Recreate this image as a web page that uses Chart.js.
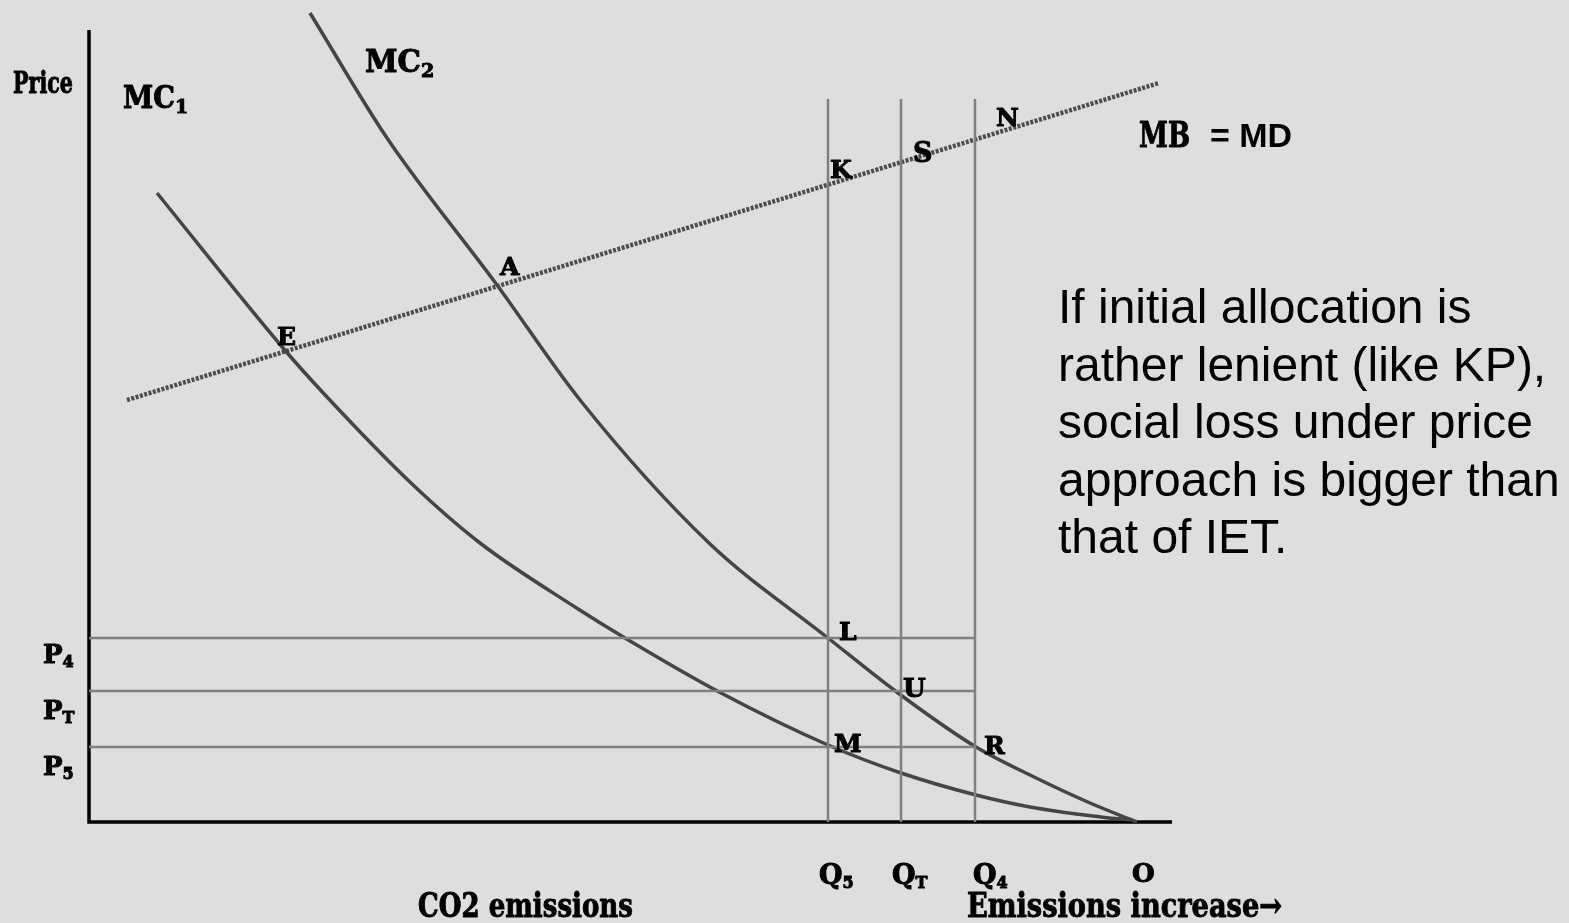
<!DOCTYPE html>
<html>
<head>
<meta charset="utf-8">
<script src="https://cdn.jsdelivr.net/npm/chart.js@4/dist/chart.umd.min.js"></script>
<style>
  html, body { margin: 0; padding: 0; background: #dedede; }
  canvas { display: block; }
</style>
</head>
<body>
<canvas id="chart" width="1569" height="923"></canvas>
<script>
// emissions run left -> right, price bottom -> top (units)
const mbX = [38, 1070];
const mbY = [422, 739];

const mc1X = [68, 194, 238, 322, 391, 486, 536, 632, 739, 812, 887, 941, 1012, 1041];
const mc1Y = [629, 474, 425, 339, 279, 215, 184, 129, 77, 49, 27, 15, 5, 2];

const mc2X = [221, 298, 408, 491, 620, 739, 809, 887, 941, 1001, 1048];
const mc2Y = [809, 684, 537, 422, 279, 184, 129, 75, 47, 19, 0];

// quantity levels Q5, QT, Q4 and price levels P4, PT, P5
const qLevels = [739, 812, 886];
const qTop = 723;
const pLevels = [184, 131, 75];

const axisXMax = 1083;
const axisYMax = 792;

const pts = (xs, ys) => xs.map((x, i) => ({ x: x, y: ys[i] }));

const datasets = [];
// guide lines
qLevels.forEach(q => datasets.push({ data: [{ x: q, y: 0 }, { x: q, y: qTop }], borderColor: '#808080', borderWidth: 2.5 }));
pLevels.forEach(p => datasets.push({ data: [{ x: 0, y: p }, { x: qLevels[2], y: p }], borderColor: '#808080', borderWidth: 2.5 }));
// curves
datasets.push({ data: pts(mc1X, mc1Y), borderColor: '#454545', borderWidth: 3.5, cubicInterpolationMode: 'monotone' });
datasets.push({ data: pts(mc2X, mc2Y), borderColor: '#454545', borderWidth: 3.5, cubicInterpolationMode: 'monotone' });
datasets.push({ data: pts(mbX, mbY), borderColor: '#4d4d4d', borderWidth: 4.5, borderDash: [3, 1.5] });
// axes
datasets.push({ data: [{ x: 0, y: axisYMax }, { x: 0, y: 0 }, { x: axisXMax, y: 0 }], borderColor: '#000', borderWidth: 3.5 });

datasets.forEach(d => { d.showLine = true; d.pointRadius = 0; d.fill = false; d.clip = false; });

// text labels: x/y are the left end of the baseline, in chart units
const slab = 'bold {s}px "DejaVu Serif"';
const labels = [
  { t: 'Price', x: -76, y: 729, s: 30, w: 60 },
  { t: 'MC', sub: '1', x: 34, y: 714, s: 32, w: 52 },
  { t: 'MC', sub: '2', x: 276, y: 750, s: 32, w: 56 },
  { t: 'E', x: 188, y: 477, s: 25 },
  { t: 'A', x: 411, y: 547, s: 25 },
  { t: 'K', x: 741, y: 644, s: 25 },
  { t: 'S', x: 824, y: 660, s: 27 },
  { t: 'N', x: 907, y: 696, s: 25 },
  { t: 'L', x: 750, y: 182, s: 25 },
  { t: 'U', x: 814, y: 125, s: 26 },
  { t: 'M', x: 745, y: 70, s: 25 },
  { t: 'R', x: 895, y: 68, s: 25 },
  { t: 'P', sub: '4', x: -46, y: 159, s: 26 },
  { t: 'P', sub: 'T', x: -46, y: 103, s: 26 },
  { t: 'P', sub: '5', x: -46, y: 47, s: 26 },
  { t: 'Q', sub: '5', x: 730, y: -62, s: 27 },
  { t: 'Q', sub: 'T', x: 803, y: -62, s: 27 },
  { t: 'Q', sub: '4', x: 884, y: -62, s: 27 },
  { t: 'O', x: 1043, y: -60, s: 26 },
  { t: 'CO2 emissions', x: 329, y: -95, s: 34, w: 215 },
  { t: 'Emissions increase\u2192', x: 878, y: -95, s: 34, w: 315 },
  { t: 'MB', x: 1050, y: 675, s: 36, w: 51 },
  { t: '= MD', x: 1121, y: 675, s: 34, w: 84, font: 'bold {s}px "Liberation Sans", Arial', plain: true }
];

const note = [
  'If initial allocation is',
  'rather lenient (like KP),',
  'social loss under price',
  'approach is bigger than',
  'that of IET.'
];

const textPlugin = {
  id: 'textLabels',
  afterDatasetsDraw(chart) {
    const ctx = chart.ctx;
    const xs = chart.scales.x, ys = chart.scales.y;
    ctx.save();
    ctx.fillStyle = '#000';
    ctx.strokeStyle = '#000';
    ctx.lineWidth = 1;
    ctx.lineJoin = 'round';
    ctx.textBaseline = 'alphabetic';
    labels.forEach(l => {
      const px = xs.getPixelForValue(l.x);
      const py = ys.getPixelForValue(l.y);
      const mw = l.w || undefined;
      ctx.font = (l.font || slab).replace('{s}', l.s);
      if (mw) ctx.fillText(l.t, px, py, mw); else ctx.fillText(l.t, px, py);
      if (!l.plain) { if (mw) ctx.strokeText(l.t, px, py, mw); else ctx.strokeText(l.t, px, py); }
      if (l.sub) {
        let tw = Math.min(ctx.measureText(l.t).width, l.w || 1e9);
        ctx.font = slab.replace('{s}', Math.round(l.s * 0.6));
        ctx.fillText(l.sub, px + tw, py + l.s * 0.15);
        ctx.strokeText(l.sub, px + tw, py + l.s * 0.15);
      }
    });
    ctx.font = '48px "Liberation Sans", Arial';
    note.forEach((line, i) => ctx.fillText(line, 1058, 323 + i * 57.5));
    ctx.restore();
  }
};

new Chart(document.getElementById('chart'), {
  type: 'scatter',
  data: { datasets: datasets },
  options: {
    responsive: false,
    animation: false,
    devicePixelRatio: 1,
    layout: { padding: { left: 89, right: 397, top: 0, bottom: 101 } },
    scales: {
      x: { type: 'linear', min: 0, max: axisXMax, display: false },
      y: { type: 'linear', min: 0, max: 822, display: false }
    },
    plugins: { legend: { display: false }, tooltip: { enabled: false } }
  },
  plugins: [textPlugin]
});
</script>
</body>
</html>
